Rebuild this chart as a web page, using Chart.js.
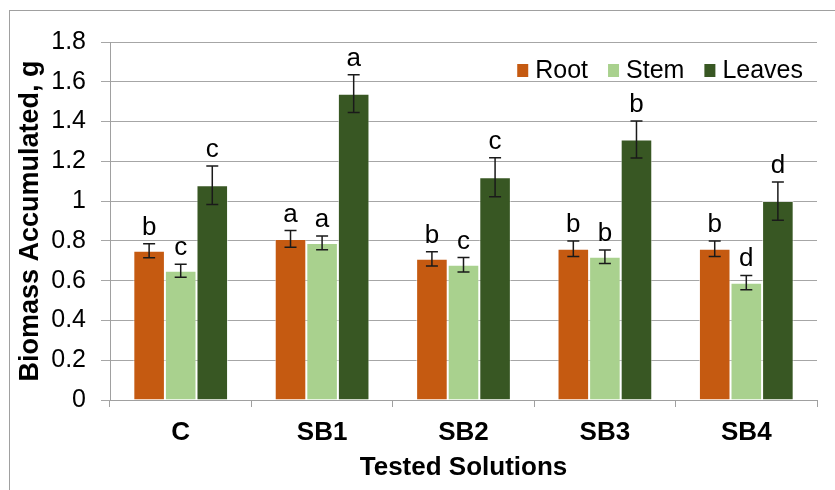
<!DOCTYPE html>
<html>
<head>
<meta charset="utf-8">
<script src="https://cdn.jsdelivr.net/npm/chart.js@4/dist/chart.umd.min.js"></script>
<style>
  body { margin: 0; background: #fff; }
  #wrap { position: relative; width: 835px; height: 490px; }
  #frame { position: absolute; left: 9px; top: 10px; width: 900px; height: 600px; border: 1px solid #a0a0a0; pointer-events: none; }
</style>
</head>
<body>
<div id="wrap">
  <canvas id="canvas" width="835" height="490"></canvas>
  <div id="frame"></div>
</div>
<script>
// data
const categories = ['C', 'SB1', 'SB2', 'SB3', 'SB4']
const seriesNames = ['Root', 'Stem', 'Leaves']
const root = [0.75, 0.81, 0.71, 0.76, 0.76]
const stem = [0.65, 0.79, 0.68, 0.72, 0.59]
const leaves = [1.08, 1.54, 1.12, 1.31, 1.00]
const rootErr = [0.035, 0.042, 0.036, 0.039, 0.039]
const stemErr = [0.033, 0.035, 0.036, 0.034, 0.036]
const leavesErr = [0.097, 0.095, 0.098, 0.093, 0.096]
const rootLetters = ['b', 'a', 'b', 'b', 'b']
const stemLetters = ['c', 'a', 'c', 'b', 'd']
const leavesLetters = ['c', 'a', 'c', 'b', 'd']
const yTicks = [0, 0.2, 0.4, 0.6, 0.8, 1, 1.2, 1.4, 1.6, 1.8]

const colors = ['#C55A11', '#A9D18E', '#385723']
const errs = [rootErr, stemErr, leavesErr]
const letters = [rootLetters, stemLetters, leavesLetters]
const FONT = "'Liberation Sans', Arial, sans-serif"

// error bars + significance letters
const errorBars = {
  id: 'errorBars',
  afterDatasetsDraw(chart) {
    const ctx = chart.ctx
    const y = chart.scales.y
    ctx.save()
    chart.data.datasets.forEach((ds, i) => {
      const meta = chart.getDatasetMeta(i)
      meta.data.forEach((bar, j) => {
        const v = ds.data[j]
        const e = errs[i][j]
        const top = y.getPixelForValue(v + e)
        const bot = y.getPixelForValue(v - e)
        ctx.strokeStyle = '#1a1a1a'
        ctx.lineWidth = 1.5
        ctx.beginPath()
        ctx.moveTo(bar.x, top); ctx.lineTo(bar.x, bot)
        ctx.moveTo(bar.x - 6, top); ctx.lineTo(bar.x + 6, top)
        ctx.moveTo(bar.x - 6, bot); ctx.lineTo(bar.x + 6, bot)
        ctx.stroke()
        ctx.fillStyle = '#000'
        ctx.font = '26px ' + FONT
        ctx.textAlign = 'center'
        ctx.textBaseline = 'alphabetic'
        ctx.fillText(letters[i][j], bar.x, top - 9)
      })
    })
    ctx.restore()
  }
}

// legend drawn inside the plot, top right
const innerLegend = {
  id: 'innerLegend',
  afterDraw(chart) {
    const ctx = chart.ctx
    const area = chart.chartArea
    ctx.save()
    ctx.font = '25px ' + FONT
    const box = 11, gap = 7, space = 20
    let total = 0
    seriesNames.forEach((n, i) => {
      total += box + gap + ctx.measureText(n).width
      if (i < seriesNames.length - 1) total += space
    })
    let x = area.right - 14 - total
    const cy = area.top + 28
    ctx.textBaseline = 'middle'
    ctx.textAlign = 'left'
    seriesNames.forEach((n, i) => {
      ctx.fillStyle = colors[i]
      ctx.fillRect(x, cy - 6, box, 13)
      x += box + gap
      ctx.fillStyle = '#000'
      ctx.fillText(n, x, cy + 1)
      x += ctx.measureText(n).width + space
    })
    ctx.restore()
  }
}

const ctx = document.getElementById('canvas').getContext('2d')
const myChart = new Chart(ctx, {
  type: 'bar',
  data: {
    labels: categories,
    datasets: [root, stem, leaves].map((d, i) => ({
      label: seriesNames[i],
      data: d,
      backgroundColor: colors[i],
      borderColor: 'rgba(255,255,255,0.55)',
      borderWidth: 1,
      borderSkipped: 'bottom',
      categoryPercentage: 0.67,
      barPercentage: 1.0
    }))
  },
  plugins: [errorBars, innerLegend],
  options: {
    responsive: false,
    animation: false,
    devicePixelRatio: 1,
    layout: { padding: { left: 10, top: 42, right: 18, bottom: 0 } },
    plugins: {
      legend: { display: false },
      tooltip: { enabled: false }
    },
    scales: {
      x: {
        grid: { drawOnChartArea: false, color: '#a0a0a0', tickLength: 7, offset: true },
        border: { color: '#a0a0a0' },
        ticks: { color: '#000', padding: 10, font: { family: FONT, size: 26, weight: 'bold' } },
        title: {
          display: true, text: 'Tested Solutions', color: '#000',
          padding: { top: 0, bottom: 7 },
          font: { family: FONT, size: 26, weight: 'bold' }
        },
        afterFit: s => { s.height = 90 }
      },
      y: {
        min: 0, max: 1.8,
        afterBuildTicks: s => { s.ticks = yTicks.map(v => ({ value: v })) },
        grid: { color: '#a6a6a6', tickLength: 9 },
        border: { color: '#a0a0a0' },
        ticks: {
          color: '#000', padding: 15,
          font: { family: FONT, size: 25 },
          callback: v => String(Number(v.toFixed(1)))
        },
        title: {
          display: true, text: 'Biomass Accumulated, g', color: '#000',
          padding: { top: 4, bottom: 4 },
          font: { family: FONT, size: 27, weight: 'bold' }
        },
        afterFit: s => { s.width = 100 }
      }
    }
  }
})
</script>
</body>
</html>
